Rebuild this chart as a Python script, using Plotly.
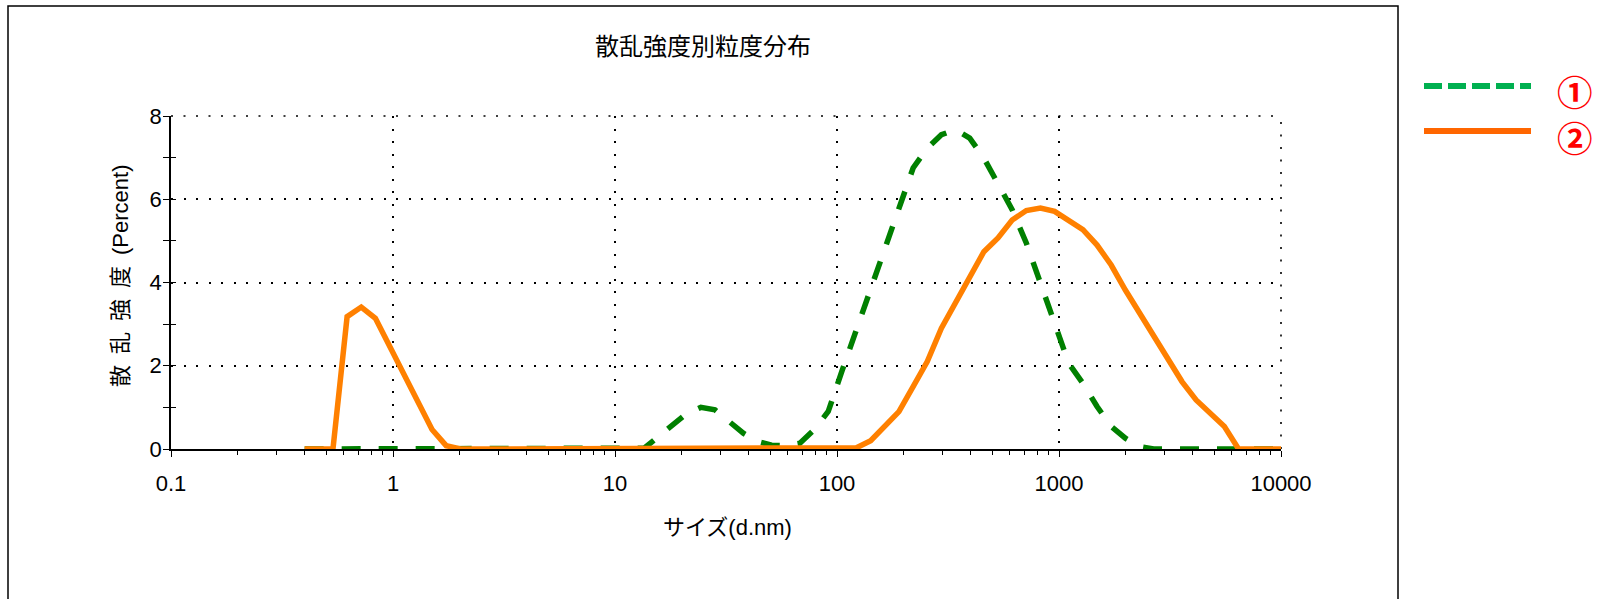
import plotly.graph_objects as go

# Size bins (d.nm) of the distribution
size_nm = [0.4, 0.4632, 0.5365, 0.6213, 0.7195, 0.8332, 0.965, 1.117, 1.294, 1.499,
           1.736, 2.01, 2.328, 2.696, 3.122, 3.615, 4.187, 4.849, 5.615, 6.503,
           7.531, 8.721, 10.1, 11.7, 13.54, 15.69, 18.17, 21.04, 24.36, 28.21,
           32.67, 37.84, 43.82, 50.75, 58.77, 68.06, 78.82, 91.28, 105.7, 122.4,
           141.8, 164.2, 190.1, 220.2, 255.0, 295.3, 342.0, 396.1, 458.7, 531.2,
           615.1, 712.4, 825.0, 955.4, 1106, 1281, 1484, 1718, 1990, 2305,
           2669, 3091, 3580, 4145, 4801, 5560, 6439, 7456, 8635, 10000]

# Sample 1: intensity (%)
sample1 = [0, 0, 0, 0, 0, 0, 0, 0, 0, 0,
           0, 0, 0, 0, 0, 0, 0, 0, 0, 0,
           0, 0, 0, 0, 0.02, 0.3, 0.58, 0.85, 1.0, 0.94,
           0.66, 0.38, 0.18, 0.09, 0.08, 0.14, 0.46, 0.9, 1.9, 2.86,
           3.87, 4.86, 5.82, 6.75, 7.23, 7.55, 7.67, 7.47, 6.99, 6.35,
           5.75, 4.95, 3.99, 3.1, 2.06, 1.58, 1.02, 0.54, 0.26, 0.06,
           0, 0, 0, 0, 0, 0, 0, 0, 0, 0]

# Sample 2: intensity (%)
sample2 = [0, 0, 0, 3.18, 3.41, 3.14, 2.46, 1.8, 1.14, 0.47,
           0.08, 0, 0, 0, 0, 0, 0, 0, 0, 0,
           0, 0, 0, 0, 0, 0, 0, 0, 0, 0,
           0, 0, 0, 0, 0, 0, 0, 0, 0, 0.03,
           0.2, 0.55, 0.9, 1.5, 2.1, 2.9, 3.5, 4.1, 4.74, 5.07,
           5.5, 5.73, 5.79, 5.71, 5.5, 5.27, 4.9, 4.42, 3.82, 3.26,
           2.7, 2.14, 1.62, 1.18, 0.87, 0.54, 0, 0, 0, 0]

x_tickvals = [0.1, 1, 10, 100, 1000, 10000]
x_ticktext = ["0.1", "1", "10", "100", "1000", "10000"]
y_tickvals = [0, 2, 4, 6, 8]

series_labels = ["①", "②"]
chart_colors = ["#008000", "#FF8000"]
key_colors = ["#00B050", "#FF6600"]

title_text = "散乱強度別粒度分布"
x_title = "サイズ(d.nm)"
y_title = "散\u2002乱\u2002強\u2002度\u2002(Percent)"

# Pixel geometry of the plotting area
W, H = 1600, 599
L, R, T, B = 171, 319, 116, 150
PW, PH = W - L - R, H - T - B


def px(xp):
    return (xp - L) / PW


def py(yp):
    return (H - B - yp) / PH


FONT = "Liberation Sans, Arial, Noto Sans CJK JP, sans-serif"
DOTS = "2px,10.5px"

fig = go.Figure()

fig.add_trace(go.Scatter(
    x=size_nm, y=sample1, mode="lines", name=series_labels[0],
    line=dict(color=chart_colors[0], width=5.5, dash="19px,18px"),
    xaxis="x", yaxis="y"))
fig.add_trace(go.Scatter(
    x=size_nm, y=sample2, mode="lines", name=series_labels[1],
    line=dict(color=chart_colors[1], width=5.5),
    xaxis="x", yaxis="y"))
# carrier trace for the inward tick marks of the y axis
fig.add_trace(go.Scatter(
    x=size_nm, y=sample2, mode="lines", line=dict(width=0),
    opacity=0, hoverinfo="skip", showlegend=False,
    xaxis="x", yaxis="y2"))

grid = dict(showgrid=True, gridcolor="#000000", gridwidth=1.6, griddash=DOTS)

fig.update_layout(
    width=W, height=H,
    margin=dict(l=L, r=R, t=T, b=B),
    paper_bgcolor="white", plot_bgcolor="white",
    showlegend=False,
    font=dict(family=FONT, size=22, color="#000000"),
    xaxis=dict(
        type="log", range=[-1, 4],
        tickvals=x_tickvals, ticktext=x_ticktext,
        ticks="outside", ticklen=6, tickwidth=1.2, tickcolor="#000",
        minor=dict(ticks="outside", ticklen=4, tickwidth=1, tickcolor="#000",
                   dtick="D1", showgrid=False),
        showline=True, linecolor="#000", linewidth=1.5,
        zeroline=False, ticklabelstandoff=8,
        tickfont=dict(size=22),
        **grid),
    yaxis=dict(
        range=[0, 8], tickvals=y_tickvals,
        ticks="outside", ticklen=5, tickwidth=1.2, tickcolor="#000",
        minor=dict(ticks="outside", ticklen=6, tickwidth=1, tickcolor="#000",
                   dtick=1, showgrid=False),
        showline=True, linecolor="#000", linewidth=1.5,
        zeroline=False, ticklabelstandoff=-2,
        tickfont=dict(size=22),
        **grid),
    yaxis2=dict(
        range=[0, 8], overlaying="y", side="left", anchor="x",
        dtick=1, ticks="inside", ticklen=5, tickwidth=1.2, tickcolor="#000",
        showticklabels=False, showgrid=False, showline=False, zeroline=False),
)

# Outer frame
fig.add_shape(type="rect", xref="paper", yref="paper",
              x0=px(8), x1=px(1398), y0=py(610), y1=py(6),
              line=dict(color="#000", width=1.5), fillcolor="rgba(0,0,0,0)",
              layer="below")

# Dotted grid lines along the top and right edges of the plotting area
fig.add_shape(type="line", xref="paper", yref="paper", x0=0, x1=1, y0=1, y1=1,
              line=dict(color="#000", width=1.6, dash=DOTS), layer="below")
fig.add_shape(type="line", xref="paper", yref="paper", x0=1, x1=1, y0=0, y1=1,
              line=dict(color="#000", width=1.6, dash=DOTS), layer="below")

annotations = [
    dict(text=title_text, x=px(703), y=py(47), font=dict(size=24)),
    dict(text=x_title, x=px(727), y=py(527), font=dict(size=22)),
    dict(text=y_title, x=px(120), y=py(276), font=dict(size=22), textangle=-90),
]

# Key: line sample for each series, circled labels stacked beside them
key_y = [86, 131]
for i in range(2):
    fig.add_shape(type="line", xref="paper", yref="paper",
                  x0=px(1424), x1=px(1531), y0=py(key_y[i]), y1=py(key_y[i]),
                  line=dict(color=key_colors[i], width=6,
                            dash="18px,6px" if i == 0 else "solid"))
annotations.append(dict(
    text="<br>".join("<b>" + s + "</b>" for s in series_labels),
    x=px(1575), y=py(113),
    font=dict(family="Noto Sans CJK JP", size=35.5, color="#FF0000")))

for a in annotations:
    a.update(xref="paper", yref="paper", showarrow=False,
             xanchor="center", yanchor="middle")
fig.update_layout(annotations=annotations)

fig.write_html("out.html")
